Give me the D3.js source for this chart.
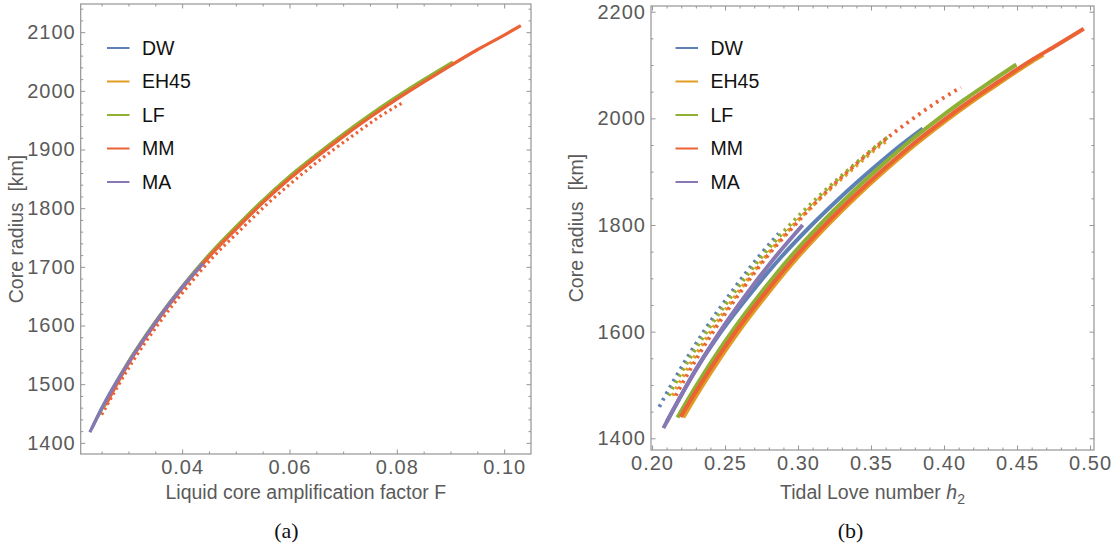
<!DOCTYPE html>
<html><head><meta charset="utf-8">
<script src="https://cdn.jsdelivr.net/npm/d3@7"></script>
<style>
html,body{margin:0;padding:0;background:#fff;}
svg{display:block;font-family:"Liberation Sans",Arial,Helvetica,sans-serif;}
</style></head><body>
<svg id="chart" width="1119" height="548"></svg>
<script>
// ---------- categories & colours ----------
const models = ["DW", "EH45", "LF", "MM", "MA"];
const colors = ["#5E81B5", "#E19C24", "#8FB032", "#EB6235", "#8778B3"];

// ---------- panel (a): [F, core radius km] ----------
const aDW = [[0.0232,1425],[0.025,1459],[0.030,1538],[0.035,1606],[0.040,1666],[0.045,1720],[0.050,1767],[0.055,1812],[0.060,1853],[0.065,1890],[0.070,1925],[0.075,1958],[0.0785,1980]];
const aEH45 = [[0.0255,1462],[0.030,1537],[0.035,1605],[0.040,1665],[0.045,1719],[0.050,1767],[0.055,1812],[0.060,1853],[0.065,1890],[0.070,1925],[0.075,1958],[0.080,1989],[0.085,2018],[0.0906,2048]];
const aLF = [[0.0243,1445],[0.030,1538],[0.035,1606],[0.040,1666],[0.045,1720],[0.050,1768],[0.055,1813],[0.060,1854],[0.065,1891],[0.070,1926],[0.075,1959],[0.080,1990],[0.085,2019],[0.0904,2049]];
const aMM = [[0.0258,1465],[0.030,1535],[0.035,1603],[0.040,1663],[0.045,1717],[0.050,1764],[0.055,1809],[0.060,1850],[0.065,1887],[0.070,1922],[0.075,1955],[0.080,1986],[0.085,2015],[0.090,2043],[0.095,2070],[0.100,2095],[0.1031,2111]];
const aMA = [[0.0228,1418],[0.025,1458],[0.030,1537],[0.035,1605],[0.040,1665],[0.0439,1706]];
const aMMdot = [[0.0250,1448],[0.0306,1536],[0.0357,1604],[0.0408,1664],[0.0459,1718],[0.0511,1765],[0.0562,1810],[0.0614,1851],[0.0665,1888],[0.0717,1923],[0.0768,1956],[0.0813,1981]];

// ---------- panel (b): [h2, core radius km] ----------
const bDW = [[0.2101,1431],[0.2196,1478.5],[0.2285,1522],[0.2382,1563.5],[0.2480,1602.5],[0.2682,1674],[0.2885,1740],[0.3090,1799],[0.3295,1853],[0.3500,1903],[0.3705,1950],[0.3854,1981]];
const bEH45 = [[0.2214,1439],[0.230,1478.5],[0.240,1522],[0.250,1563.5],[0.260,1602.5],[0.280,1674],[0.300,1740],[0.320,1799],[0.340,1853],[0.360,1903],[0.380,1950],[0.400,1993],[0.420,2033],[0.440,2070],[0.460,2106],[0.468,2119]];
const bLF = [[0.2174,1439],[0.2258,1478.5],[0.2356,1522],[0.2455,1563.5],[0.2553,1602.5],[0.2750,1674],[0.2947,1740],[0.3144,1799],[0.3341,1853],[0.3538,1903],[0.3735,1950],[0.3932,1993],[0.4129,2033],[0.4326,2070],[0.4495,2101]];
const bMM = [[0.2196,1440],[0.228,1478.5],[0.238,1522],[0.248,1563.5],[0.258,1602.5],[0.278,1674],[0.298,1740],[0.318,1799],[0.338,1853],[0.358,1903],[0.378,1950],[0.398,1993],[0.418,2033],[0.438,2070],[0.458,2106],[0.478,2138.5],[0.4957,2168]];
const bMA = [[0.2078,1419],[0.2195,1478.5],[0.2287,1522],[0.2379,1563.5],[0.2471,1602.5],[0.2657,1674],[0.2844,1740],[0.3032,1800]];
const bDWdot = [[0.2050,1459],[0.2088,1478.5],[0.2178,1522],[0.2269,1563.5],[0.2360,1602.5],[0.2544,1674],[0.2729,1740],[0.2868,1784]];
const bLFdot = [[0.2113,1480],[0.2198,1522],[0.2289,1563.5],[0.2380,1602.5],[0.2564,1674],[0.2749,1740],[0.2940,1799],[0.3140,1853],[0.3342,1903],[0.3545,1950],[0.3635,1969]];
const bEH45dot = [[0.2140,1480],[0.2225,1522],[0.2316,1563.5],[0.2407,1602.5],[0.2591,1674],[0.2776,1740],[0.2966,1799],[0.3164,1853],[0.3366,1903],[0.3568,1950],[0.3620,1960]];
const bMMdot = [[0.2162,1480],[0.2247,1522],[0.2336,1563.5],[0.2425,1602.5],[0.2605,1674],[0.2785,1740],[0.2975,1799],[0.3160,1853],[0.3352,1903],[0.3550,1950],[0.3790,2000],[0.3965,2033],[0.4115,2058]];

// ---------- ticks ----------
const aXTicks = [0.04, 0.06, 0.08, 0.10];
const aYTicks = [1400, 1500, 1600, 1700, 1800, 1900, 2000, 2100];
const bXTicks = [0.20, 0.25, 0.30, 0.35, 0.40, 0.45, 0.50];
const bYTicks = [1400, 1600, 1800, 2000, 2200];

const svg = d3.select("#chart");
const frameColor = "#949494", tickText = "#5a5a5a";

function minorTicks(lo, hi, step, majors) {
  return d3.range(Math.round(lo / step), Math.round(hi / step) + 1)
    .map(i => +(i * step).toFixed(6))
    .filter(v => !majors.some(m => Math.abs(m - v) < step / 10));
}

function panel(cfg) {
  const x = d3.scaleLinear().domain(cfg.xDom).range([cfg.left, cfg.right]);
  const y = d3.scaleLinear().domain(cfg.yDom).range([cfg.bottom, cfg.top]);
  const g = svg.append("g");
  const xMin = minorTicks(cfg.xDom[0], cfg.xDom[1], cfg.xMinorStep, cfg.xTicks).filter(v => v > cfg.xDom[0] && v < cfg.xDom[1]);
  const yMin = minorTicks(cfg.yDom[0], cfg.yDom[1], cfg.yMinorStep, cfg.yTicks).filter(v => v > cfg.yDom[0] && v < cfg.yDom[1]);

  const axes = [
    [d3.axisBottom(x).tickValues(cfg.xTicks).tickSize(-4.5).tickPadding(5.5).tickFormat(d3.format(cfg.xFmt)), `translate(0,${cfg.bottom})`],
    [d3.axisBottom(x).tickValues(xMin).tickSize(-2.5).tickFormat(""), `translate(0,${cfg.bottom})`],
    [d3.axisTop(x).tickValues(cfg.xTicks).tickSize(-4.5).tickFormat(""), `translate(0,${cfg.top})`],
    [d3.axisTop(x).tickValues(xMin).tickSize(-2.5).tickFormat(""), `translate(0,${cfg.top})`],
    [d3.axisLeft(y).tickValues(cfg.yTicks).tickSize(-4.5).tickPadding(5).tickFormat(d3.format("d")), `translate(${cfg.left},0)`],
    [d3.axisLeft(y).tickValues(yMin).tickSize(-2.5).tickFormat(""), `translate(${cfg.left},0)`],
    [d3.axisRight(y).tickValues(cfg.yTicks).tickSize(-4.5).tickFormat(""), `translate(${cfg.right},0)`],
    [d3.axisRight(y).tickValues(yMin).tickSize(-2.5).tickFormat(""), `translate(${cfg.right},0)`]
  ];
  axes.forEach(([ax, tr]) => {
    const a = g.append("g").attr("transform", tr).call(ax);
    a.select(".domain").remove();
    a.selectAll(".tick line").attr("stroke", frameColor).attr("stroke-width", 1);
    a.selectAll(".tick text").attr("fill", tickText).style("font-size", "20px")
      .style("font-family", '"Liberation Sans",Arial,sans-serif').style("letter-spacing", "1px");
  });

  g.append("rect").attr("x", cfg.left).attr("y", cfg.top)
    .attr("width", cfg.right - cfg.left).attr("height", cfg.bottom - cfg.top)
    .attr("fill", "none").attr("stroke", frameColor).attr("stroke-width", 1.2);

  const clip = "clip" + cfg.id;
  svg.append("clipPath").attr("id", clip).append("rect")
    .attr("x", cfg.left).attr("y", cfg.top).attr("width", cfg.right - cfg.left).attr("height", cfg.bottom - cfg.top);
  const plot = g.append("g").attr("clip-path", `url(#${clip})`);
  const line = d3.line().x(d => x(d[0])).y(d => y(d[1])).curve(d3.curveMonotoneX);

  cfg.dotted.forEach(([data, ci]) => {
    plot.append("path").attr("d", line(data)).attr("fill", "none")
      .attr("stroke", colors[ci]).attr("stroke-width", cfg.dotW)
      .attr("stroke-dasharray", cfg.dash);
  });
  cfg.solid.forEach(([data, ci]) => {
    plot.append("path").attr("d", line(data)).attr("fill", "none")
      .attr("stroke", colors[ci]).attr("stroke-width", cfg.solidW)
      .attr("stroke-linecap", "butt").attr("stroke-linejoin", "round");
  });

  // legend
  models.forEach((m, i) => {
    const ly = cfg.legY + i * 33.5;
    g.append("line").attr("x1", cfg.legX).attr("x2", cfg.legX + 22.5)
      .attr("y1", ly).attr("y2", ly).attr("stroke", colors[i]).attr("stroke-width", 2);
    g.append("text").attr("x", cfg.legX + 35).attr("y", ly).attr("dy", "0.35em")
      .attr("fill", "#111").style("font-size", "19.5px").text(m);
  });

  // y label
  g.append("text").attr("transform", `translate(${cfg.yLabX},${(cfg.top + cfg.bottom) / 2}) rotate(-90)`)
    .attr("text-anchor", "middle").attr("fill", tickText).style("font-size", "19.5px")
    .attr("xml:space", "preserve").text("Core radius  [km]");

  // x label
  const xl = g.append("text").attr("x", (cfg.left + cfg.right) / 2).attr("y", 499)
    .attr("text-anchor", "middle").attr("fill", tickText).style("font-size", "19.5px");
  cfg.xLabel(xl);

  // caption
  g.append("text").attr("x", cfg.capX).attr("y", 538).attr("text-anchor", "middle")
    .attr("fill", "#111").style("font-family", '"Liberation Serif","Times New Roman",serif')
    .style("font-size", "22px").text(cfg.caption);
}

panel({
  id: "a", left: 80.7, right: 531, top: 4, bottom: 454,
  xDom: [0.0211, 0.1050], yDom: [1381, 2148],
  xTicks: aXTicks, yTicks: aYTicks, xMinorStep: 0.005, yMinorStep: 20, xFmt: ".2f",
  solidW: 3.2, dotW: 3.2, dash: "2.4 3.4",
  solid: [[aDW, 0], [aEH45, 1], [aLF, 2], [aMM, 3], [aMA, 4]],
  dotted: [[aMMdot, 3]],
  legX: 107, legY: 48, yLabX: 23, capX: 286.5, caption: "(a)",
  xLabel: t => t.text("Liquid core amplification factor F")
});

panel({
  id: "b", left: 651, right: 1094, top: 6, bottom: 450,
  xDom: [0.1993, 0.5027], yDom: [1378, 2210.7],
  xTicks: bXTicks, yTicks: bYTicks, xMinorStep: 0.01, yMinorStep: 50, xFmt: ".2f",
  solidW: 4, dotW: 3.8, dash: "2.6 4.6",
  solid: [[bDW, 0], [bEH45, 1], [bLF, 2], [bMM, 3], [bMA, 4]],
  dotted: [[bDWdot, 0], [bLFdot, 2], [bEH45dot, 1], [bMMdot, 3]],
  legX: 675.5, legY: 48, yLabX: 583, capX: 850.5, caption: "(b)",
  xLabel: t => {
    t.append("tspan").text("Tidal Love number ");
    t.append("tspan").style("font-style", "italic").text("h");
    t.append("tspan").attr("dy", 5).style("font-size", "14px").text("2");
  }
});
</script>
</body></html>
